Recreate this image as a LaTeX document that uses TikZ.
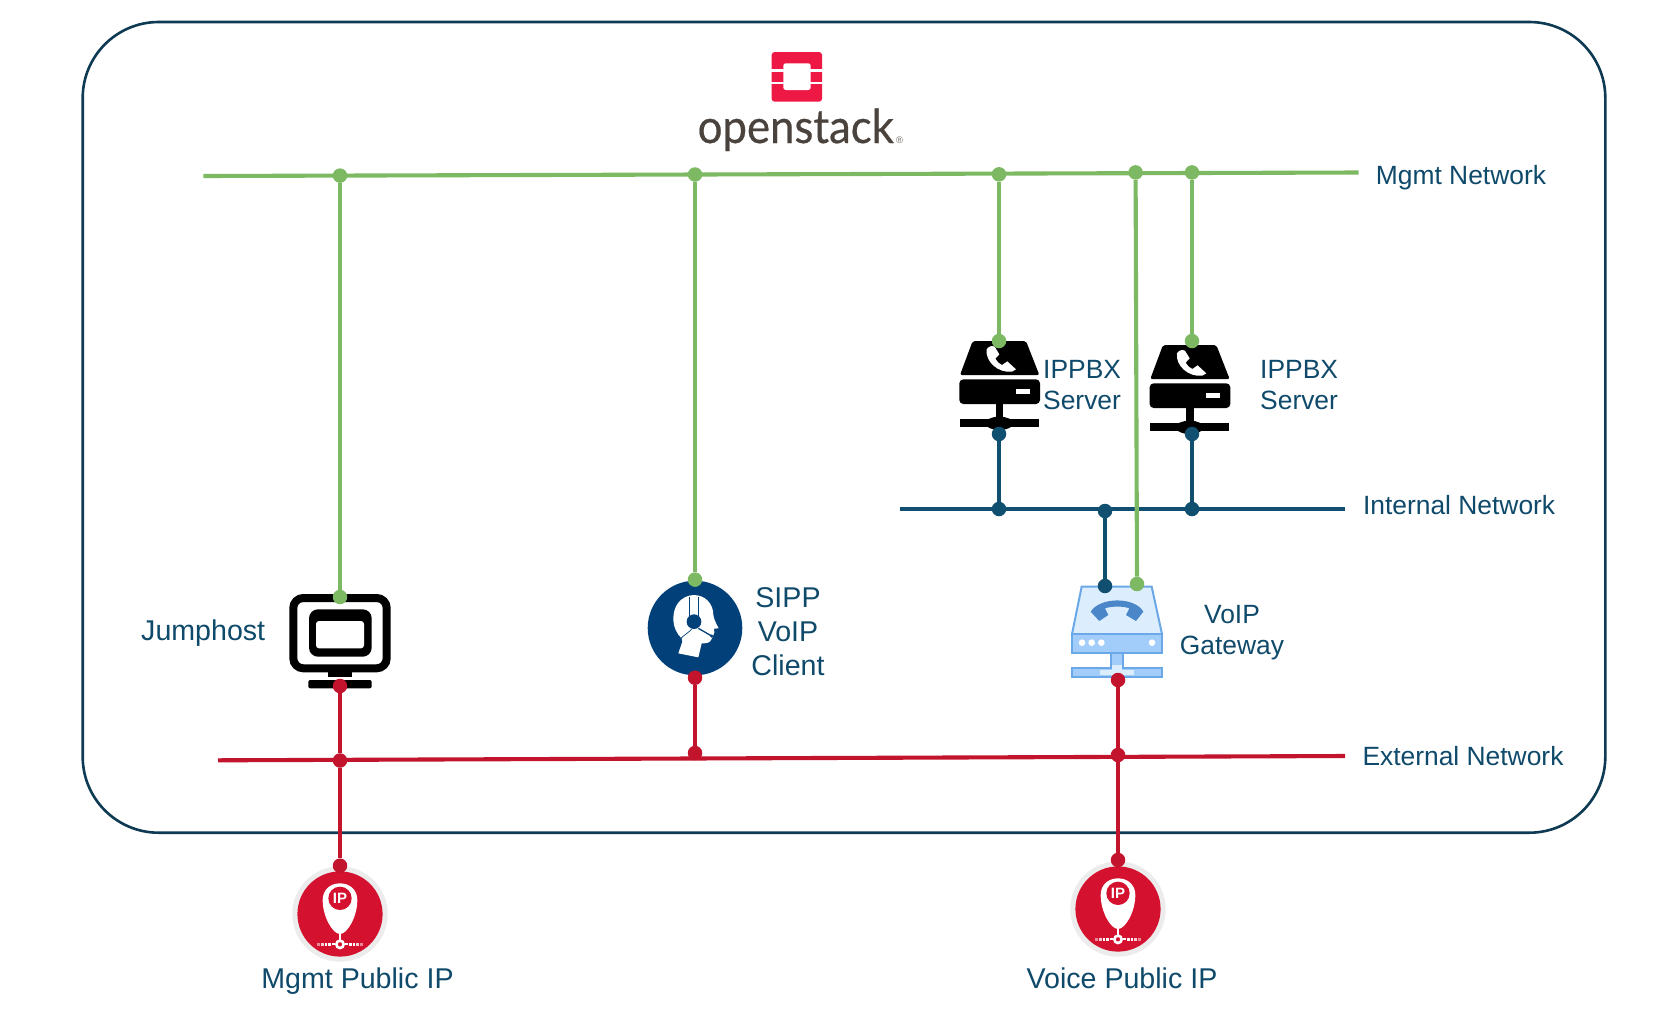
\documentclass[tikz,border=0pt]{standalone}
\usepackage{fontspec}
\usepackage{graphicx}
\setmainfont{Liberation Sans}
\newfontfamily\oslogo[FakeBold=0.5]{Lato}
\definecolor{gnet}{HTML}{7CB962}
\definecolor{bnet}{HTML}{114F70}
\definecolor{rnet}{HTML}{C2142C}
\definecolor{frame}{HTML}{0E3A53}
\definecolor{txt}{HTML}{0F4A6B}
\definecolor{osred}{HTML}{EE1845}
\definecolor{osgrey}{HTML}{4A423C}
\definecolor{sipblue}{HTML}{024079}
\definecolor{ipred}{HTML}{D4112E}
\definecolor{ipring}{HTML}{ECECEC}
\definecolor{gwstroke}{HTML}{6AA8E8}
\definecolor{gwbody}{HTML}{A2CDFB}
\definecolor{gwroof}{HTML}{DCEEFE}
\definecolor{gwphone}{HTML}{4A86C8}
\tikzset{
  gdot/.style={circle,fill=gnet,inner sep=0pt,minimum size=14.5pt},
  bdot/.style={circle,fill=bnet,inner sep=0pt,minimum size=14.5pt},
  rdot/.style={circle,fill=rnet,inner sep=0pt,minimum size=14.5pt},
  gline/.style={draw=gnet,line width=4.1pt},
  bline/.style={draw=bnet,line width=4.1pt},
  rline/.style={draw=rnet,line width=4.1pt},
  lblA/.style={text=txt,inner sep=0pt,font=\fontsize{26.4}{26.4}\selectfont},
  lblB/.style={text=txt,inner sep=0pt,font=\fontsize{28.6}{28.6}\selectfont},
  ipicon/.pic={
    \fill[ipring] (0,0) circle (47.7);
    \fill[ipred] (0,0) circle (42.6);
    \begin{scope}[scale=1/3]
      \fill[white] (0,-92) .. controls (-30,-92) and (-52,-72) .. (-52,-42)
        .. controls (-52,8) and (-22,60) .. (0,60)
        .. controls (22,60) and (52,8) .. (52,-42)
        .. controls (52,-72) and (30,-92) .. (0,-92) -- cycle;
      \fill[ipred] (0,-47) circle (35);
      \draw[white,line width=2.6pt] (0,91) circle (11);
      \draw[white,line width=2.2pt] (0,58) -- (0,80);
      \draw[white,line width=2.2pt] (-15,91) -- (-24,91) (15,91) -- (24,91);
      \foreach \d/\o in {32/1,42/1,53/.8,64/.5} {
        \fill[white,opacity=\o] (-\d-4,87) rectangle (-\d+4,96);
        \fill[white,opacity=\o] (\d-4,87) rectangle (\d+4,96);
      }
    \end{scope}
  },
  ippbx/.pic={
    \begin{scope}[scale=1/3]
      \fill[black,rounded corners=2pt] (128,63) -- (288,63) -- (328,165) -- (90,165) -- cycle;
      \fill[black,rounded corners=4pt] (88,178) rectangle (330,252);
      \fill[white] (258,208) rectangle (300,222);
      \fill[black] (197,252) rectangle (220,300);
      \fill[black] (90,298) rectangle (326,321);
      \fill[black] (208,310) ellipse (42 and 20);
      \fill[white] (170,88) .. controls (176,78) and (188,76) .. (194,80)
        -- (208,103) -- (196,116)
        .. controls (200,124) and (208,132) .. (216,135)
        -- (232,124) -- (258,148) -- (246,155)
        .. controls (205,160) and (165,125) .. (170,88) -- cycle;
    \end{scope}
  }
}
\begin{document}
\begin{tikzpicture}[x=1pt,y=-1pt]
\useasboundingbox (0,0) rectangle (1668,1013);
\fill[white] (0,0) rectangle (1668,1013);

% cloud frame
\draw[frame,line width=2.6pt,rounded corners=76pt] (82.7,22) rectangle (1605.3,832.7);

% logo
\fill[osred,rounded corners=3pt] (771.7,52) rectangle (822,101.7);
\fill[white] (771,69.3) rectangle (823,71.6);
\fill[white] (771,82.3) rectangle (823,84.4);
\fill[white,rounded corners=2.5pt] (783.3,63.3) rectangle (810.7,90);
\node[anchor=base west,inner sep=0pt,text=osgrey] (oslabel) at (697.5,143)
  {\scalebox{.93}[1]{\fontsize{47}{47}\oslogo openstack}};
\node[anchor=center,inner sep=0pt,text=osgrey!80] (osreg) at (899.5,140.7)
  {\fontsize{9.5}{9.5}\selectfont ®};

% jumphost icon
\draw[black,line width=8pt,rounded corners=10pt] (293.3,598) rectangle (386.7,668.3);
\fill[black,rounded corners=9pt] (309,609.3) rectangle (371.7,656.7);
\fill[white,rounded corners=3pt] (316,621) rectangle (364,648.3);
\fill[black] (328,672) rectangle (351.7,676.7);
\fill[black,rounded corners=2pt] (308.3,688.3) -- (308.3,680) -- (371.7,680) -- (371.7,688.3) -- cycle;

% SIPP icon
\fill[sipblue] (695,628) circle (47.3);
\begin{scope}[shift={(630,560)},scale=1/3]
  \fill[white] (190,105)
    .. controls (150,108) and (130,140) .. (130,175)
    .. controls (130,200) and (140,222) .. (155,235)
    -- (157,245) -- (145,280) -- (205,292) -- (215,250)
    .. controls (225,250) and (240,250) .. (243,240)
    -- (248,230) -- (253,218) -- (252,206) -- (266,205)
    .. controls (258,190) and (252,178) .. (250,165)
    .. controls (250,130) and (225,105) .. (190,105) -- cycle;
  \draw[sipblue,line width=.8pt] (179,112) -- (179,170) (206,112) -- (206,170);
  \draw[sipblue,line width=.7pt] (152,236) .. controls (162,225) and (175,218) .. (185,208);
  \fill[sipblue] (192,185) circle (22);
  \draw[sipblue,line width=1.3pt] (205,205) -- (245,228);
  \fill[sipblue] (245,228) circle (5);
\end{scope}

% IPPBX icons
\pic (pbxa) at (930,320) {ippbx};
\pic (pbxb) at (1120.3,324) {ippbx};

% gateway icon
\begin{scope}[shift={(1050,560)},scale=1/3]
  \filldraw[draw=gwstroke,fill=gwroof,line width=2pt] (95,80) -- (305,80) -- (336,222) -- (66,222) -- cycle;
  \filldraw[draw=gwstroke,fill=gwbody,line width=2pt] (66,222) rectangle (336,280);
  \foreach \p in {96,125,154,306} \fill[white] (\p,248) circle (10);
  \fill[gwphone] (122,155)
    .. controls (150,110) and (255,110) .. (280,155)
    -- (258,183) -- (228,165) -- (238,145)
    .. controls (220,138) and (185,138) .. (165,145)
    -- (175,165) -- (148,183) -- cycle;
  \filldraw[draw=gwstroke,fill=gwbody,line width=2pt] (182,280) rectangle (220,318);
  \filldraw[draw=gwstroke,fill=gwbody,line width=2pt] (66,325) rectangle (336,352);
  \fill[gwroof] (150,331) rectangle (252,346);
  \fill[gwroof] (185,315) rectangle (217,332);
\end{scope}

% floating IP icons
\pic (ipa) at (340,914) {ipicon};
\pic (ipb) at (1118,909) {ipicon};

% net end points
\coordinate (mgL) at (203.3,176);
\coordinate (mgR) at (1358.7,172.5);
\coordinate (inL) at (900,509);
\coordinate (inR) at (1345,509);
\coordinate (exL) at (218,760.3);
\coordinate (exR) at (1345,756);

% dots
\node[gdot] (g1) at (340,175.6) {};
\node[gdot] (g2) at (695,174.5) {};
\node[gdot] (g3) at (999,174.3) {};
\node[gdot] (g4) at (1135.6,172.4) {};
\node[gdot] (g5) at (1192,172.4) {};
\node[gdot] (jg) at (340,597) {};
\node[gdot] (sg) at (695,579.6) {};
\node[gdot] (pg1) at (999,341) {};
\node[gdot] (pg2) at (1192,341) {};
\node[gdot] (wg) at (1137,584) {};
\node[bdot] (pb1) at (999,434) {};
\node[bdot] (pb2) at (1192,434) {};
\node[bdot] (b1) at (999,509) {};
\node[bdot] (b2) at (1192,509) {};
\node[bdot] (b3) at (1105,511) {};
\node[bdot] (wb) at (1105,586) {};
\node[rdot] (jr) at (340,686) {};
\node[rdot] (sr) at (695,677.7) {};
\node[rdot] (wr) at (1118,680) {};
\node[rdot] (r1) at (340,760.5) {};
\node[rdot] (r2) at (695,753) {};
\node[rdot] (r3) at (1118,755) {};
\node[rdot] (ipr1) at (340,865.7) {};
\node[rdot] (ipr2) at (1118,860) {};

% connectors
\draw[bline] (inL) -- (inR);
\draw[bline] (pb1) -- (b1);
\draw[bline] (pb2) -- (b2);
\draw[bline] (b3) -- (wb);
\draw[gline] (mgL) -- (mgR);
\draw[gline] (g1) -- (jg);
\draw[gline] (g2) -- (sg);
\draw[gline] (g3) -- (pg1);
\draw[gline] (g4) -- (wg);
\draw[gline] (g5) -- (pg2);
\draw[rline] (exL) -- (exR);
\draw[rline] (jr) -- (r1);
\draw[rline] (r1) -- (ipr1);
\draw[rline] (sr) -- (r2);
\draw[rline] (wr) -- (r3);
\draw[rline] (r3) -- (ipr2);

% labels
\node[lblA,anchor=base west] (lmg) at (1375.7,184.5) {Mgmt Network};
\node[lblA,anchor=base west] (lin) at (1362.8,514) {Internal Network};
\node[lblA,anchor=base west] (lex) at (1362.3,765.5) {External Network};
\node[lblA,anchor=base west] (lp1a) at (1043,378.5) {IPPBX};
\node[lblA,anchor=base west] (lp1b) at (1043,409) {Server};
\node[lblA,anchor=base west] (lp2a) at (1260,378.5) {IPPBX};
\node[lblA,anchor=base west] (lp2b) at (1260,409) {Server};
\node[lblA,anchor=base] (lva) at (1232,623.5) {VoIP};
\node[lblA,anchor=base] (lvb) at (1232,654.8) {Gateway};
\node[lblB,anchor=base] (lsa) at (788,607) {SIPP};
\node[lblB,anchor=base] (lsb) at (788,641) {VoIP};
\node[lblB,anchor=base] (lsc) at (788,675.5) {Client};
\node[lblB,anchor=base west] (lj) at (141,640) {Jumphost};
\node[lblB,anchor=base] (lipa) at (357.5,988) {Mgmt Public IP};
\node[lblB,anchor=base] (lipb) at (1122,988) {Voice Public IP};
\node[text=white,inner sep=0pt,font=\fontsize{15}{15}\selectfont\bfseries] (tipa) at (340,898.6) {IP};
\node[text=white,inner sep=0pt,font=\fontsize{15}{15}\selectfont\bfseries] (tipb) at (1118,893.6) {IP};
\end{tikzpicture}
\end{document}
